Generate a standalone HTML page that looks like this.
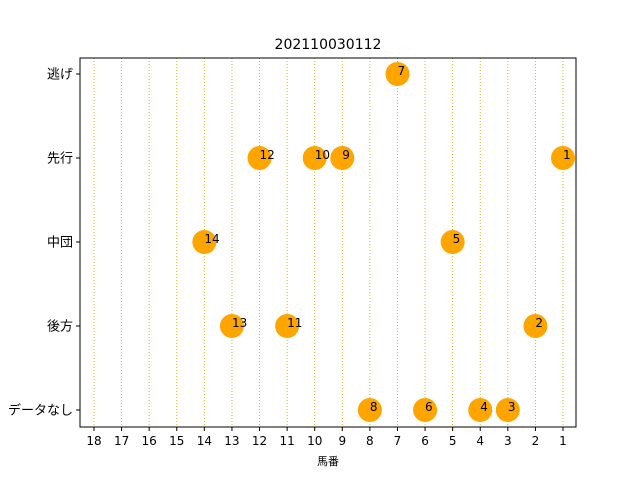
<!DOCTYPE html>
<html><head><meta charset="utf-8"><style>
body{margin:0;background:#fff}
svg text{font-family:"DejaVu Sans","Liberation Sans","Noto Sans CJK JP",sans-serif}
</style></head><body>
<svg id="c" width="640" height="480" xmlns="http://www.w3.org/2000/svg">
<rect width="640" height="480" fill="#fff"/>
<text x="328" y="49" font-size="14" text-anchor="middle">202110030112</text>
<g id="grid"></g><g id="marks"></g>
<rect x="80" y="58" width="496" height="369" fill="none" stroke="#000" stroke-width="1"/>
<g id="ticks"></g>
<text x="328" y="465" font-size="11" text-anchor="middle">馬番</text>
</svg>
<script>
const categories=["逃げ","先行","中団","後方","データなし"];
const horses=[7,12,10,9,1,14,5,13,11,2,8,6,4,3];
const horseCats=[0,1,1,1,1,2,2,3,3,3,4,4,4,4];
const xTicks=[18,17,16,15,14,13,12,11,10,9,8,7,6,5,4,3,2,1];
const NS="http://www.w3.org/2000/svg";
function xs(v){return 563-(v-1)*(563-94)/17;}
function ys(i){return 74+i*84;}
function mk(t,a,p){const e=document.createElementNS(NS,t);for(const k in a)e.setAttribute(k,a[k]);p.appendChild(e);return e;}
const grid=document.getElementById('grid'),marks=document.getElementById('marks'),ticks=document.getElementById('ticks');
xTicks.forEach(v=>{
 const l=mk('line',{x1:xs(v),x2:xs(v),y1:58,y2:427,stroke:'#c8b400','stroke-width':0.9,'stroke-dasharray':'1,2'},grid);
 
 
 mk('line',{x1:xs(v),x2:xs(v),y1:427,y2:431,stroke:'#000'},ticks);
 const t=mk('text',{x:xs(v),y:445,'font-size':12,'text-anchor':'middle'},ticks);t.textContent=v;
 
 
});
categories.forEach((c,i)=>{
 mk('line',{x1:76,x2:80,y1:ys(i),y2:ys(i),stroke:'#000'},ticks);
 const t=mk('text',{x:73,y:ys(i)+4.5,'font-size':13,'text-anchor':'end'},ticks);t.textContent=c;
 
 
});
horses.forEach((h,i)=>{
 const c=mk('circle',{cx:xs(h),cy:ys(horseCats[i]),r:12,fill:'#ffa500'},marks);
 
 
 const t=mk('text',{x:xs(h),y:ys(horseCats[i])+1,'font-size':12},marks);t.textContent=h;
 
 
});
</script>
</body></html>
